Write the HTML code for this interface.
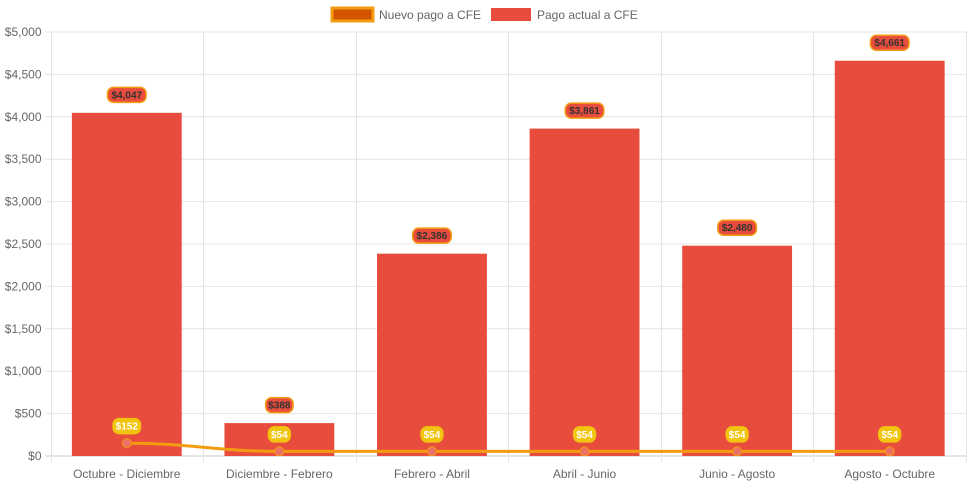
<!DOCTYPE html>
<html><head><meta charset="utf-8"><style>
body{margin:0;background:#fff;}
svg{display:block;font-family:"Liberation Sans",Arial,sans-serif;}
</style></head><body>
<svg id="c" width="971" height="485"></svg>
<script>
const categories=["Octubre - Diciembre","Diciembre - Febrero","Febrero - Abril","Abril - Junio","Junio - Agosto","Agosto - Octubre"];
const actualValues=[4047,388,2386,3861,2480,4661];
const newValues=[152,54,54,54,54,54];
const yTicks=[0,500,1000,1500,2000,2500,3000,3500,4000,4500,5000];
const NS="http://www.w3.org/2000/svg";
const svg=document.getElementById('c');
const L=50.5,R=966,T=32,B=456,yMax=5000;
const cw=(R-L)/categories.length;
const x=i=>L+cw*(i+0.5);
const y=v=>B-(v/yMax)*(B-T);
function el(t,a,p){const e=document.createElementNS(NS,t);for(const k in a)e.setAttribute(k,a[k]);(p||svg).appendChild(e);return e;}
const fmt=v=>'$'+v.toLocaleString('en-US');
const g=el('g',{});


yTicks.forEach(t=>{
  el('line',{x1:L-5,x2:R,y1:y(t),y2:y(t),stroke:t===0?'#c8c8c8':'#e4e4e4','stroke-width':1},g);
  const tx=el('text',{x:L-9,y:y(t)+4,'text-anchor':'end','font-size':12,fill:'#666'});
  tx.textContent=fmt(t);
  
  
});
for(let i=0;i<=categories.length;i++){
  const xx=Math.round(L+cw*i)+0.5;
  el('line',{x1:xx,x2:xx,y1:T,y2:B+6,stroke:'#e4e4e4','stroke-width':1},g);
}
categories.forEach((c,i)=>{
  const tx=el('text',{x:x(i),y:B+22,'text-anchor':'middle','font-size':12,fill:'#666'});
  tx.textContent=c;
  
  
});
const bw=cw*0.72;
actualValues.forEach((v,i)=>{
  const r=el('rect',{x:x(i)-bw/2,y:y(v),width:bw,height:B-y(v),fill:'#e74c3c'});
  
  
});
let d='';
const pts=newValues.map((v,i)=>[x(i),y(v)]);
pts.forEach((p,i)=>{
  if(i===0)d+='M'+p[0]+','+p[1];
  else{const q=pts[i-1];const dx=(p[0]-q[0])*0.4;d+=' C'+(q[0]+dx)+','+q[1]+' '+(p[0]-dx)+','+p[1]+' '+p[0]+','+p[1];}
});
const ln=el('path',{d:d,fill:'none',stroke:'#f39c12','stroke-width':3});


pts.forEach((p,i)=>{
  const c=el('circle',{cx:p[0],cy:p[1],r:4.5,fill:'#ec7063',stroke:'#f39c12','stroke-width':1});
  
  
});
function label(cx,cy,text,bg,border,color,name){
  const w=text.length*5.6+5;
  const r=el('rect',{x:cx-w/2,y:cy-7.5,width:w,height:15,rx:6,fill:bg,stroke:border,'stroke-width':1.5});
  
  
  const t=el('text',{x:cx,y:cy+3.5,'text-anchor':'middle','font-size':10,'font-weight':'bold',fill:color});
  t.textContent=text;
  
  
}
actualValues.forEach((v,i)=>label(x(i),y(v)-18,fmt(v),'#e74c3c','#f39c12','#333','bar-value-label'));
newValues.forEach((v,i)=>label(x(i),y(v)-17,fmt(v),'#f1c40f','#f1c40f','#fff','line-value-label'));
const lg=el('g',{});


const s1=el('rect',{x:332,y:8,width:41,height:13,fill:'#d35400',stroke:'#f39c12','stroke-width':3},lg);


const t1=el('text',{x:379,y:19,'font-size':12,fill:'#666'},lg);t1.textContent='Nuevo pago a CFE';


const s2=el('rect',{x:491,y:8,width:40,height:13,fill:'#e74c3c'},lg);


const t2=el('text',{x:537,y:19,'font-size':12,fill:'#666'},lg);t2.textContent='Pago actual a CFE';


</script>
</body></html>
